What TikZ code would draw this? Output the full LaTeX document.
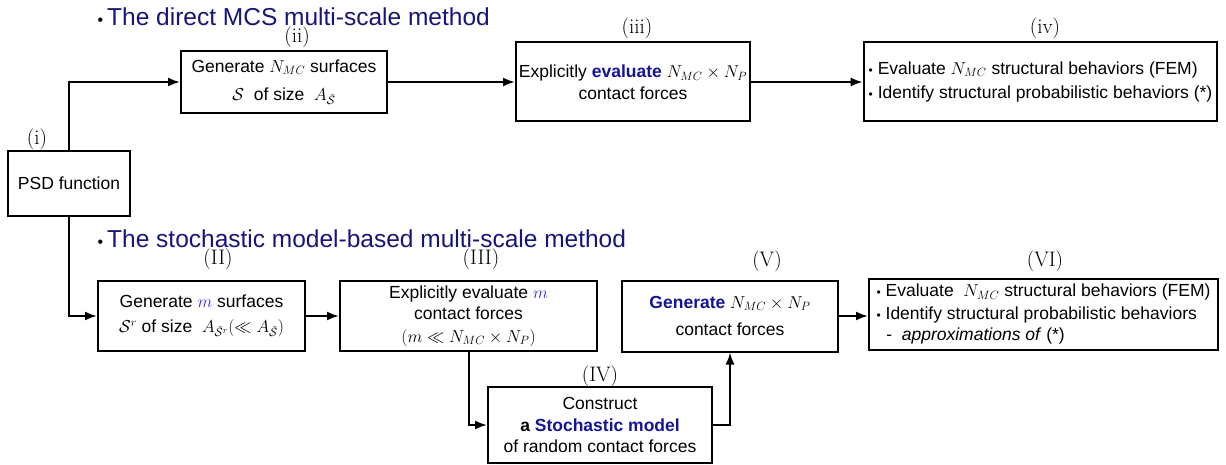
\documentclass[tikz,border=0pt]{standalone}
\usepackage{fontspec}
\setsansfont{Liberation Sans}
\usetikzlibrary{arrows.meta}
\definecolor{headblue}{RGB}{22,22,120}
\definecolor{keyblue}{RGB}{20,20,150}
\definecolor{varblue}{RGB}{45,45,235}
\newcommand{\dotitem}{{\fontsize{12}{12}\selectfont\textbullet}\ }
\begin{document}
\begin{tikzpicture}[x=1pt,y=-1pt,
  box/.style={draw,line width=2pt,inner sep=0pt,align=center,
    font=\sffamily\fontsize{17.5}{21.5}\selectfont},
  listbox/.style={box,align=left,inner xsep=5pt},
  flow/.style={line width=2pt,-{Latex[length=12pt,width=9pt]}},
  tag/.style={font=\rmfamily\fontsize{21}{24}\selectfont},
  heading/.style={anchor=west,text=headblue,font=\sffamily\fontsize{24.5}{28}\selectfont}]
\useasboundingbox (0,0) rectangle (1226,465);

% headings
\node[heading] (h1) at (94,17) {{\color{black}\fontsize{16}{16}\selectfont\textbullet}\,The direct MCS multi-scale method};
\node[heading] (h2) at (94,239) {{\color{black}\fontsize{16}{16}\selectfont\textbullet}\,The stochastic model-based multi-scale method};

% source
\node[box,minimum width=122pt,minimum height=65pt] (psd) at (69,183.5) {PSD function};
\node[tag] (ti) at (37,139) {(i)};

% direct path
\node[box,minimum width=206pt,minimum height=62pt] (ii) at (284,82)
  {Generate $N_{MC}$ surfaces\\[7pt] $\mathcal{S}$\ \ of size\ \ $A_{\bar{\mathcal{S}}}$};
\node[tag] (tii) at (297,37) {(ii)};

\node[box,minimum width=234pt,minimum height=79pt] (iii) at (633,82)
  {Explicitly \textbf{\color{keyblue}evaluate} $N_{MC}\times N_P$\\ contact forces};
\node[tag] (tiii) at (637,28) {(iii)};

\node[listbox,minimum width=349pt,minimum height=79pt] (iv) at (1040.5,82)
  {\dotitem Evaluate $N_{MC}$ structural behaviors (FEM)\\[3pt]
   \dotitem Identify structural probabilistic behaviors (*)};
\node[tag] (tiv) at (1045,28) {(iv)};

% stochastic-model path
\node[box,minimum width=207pt,minimum height=70pt] (II) at (201.5,316)
  {Generate {\color{varblue}$m$} surfaces\\[4pt] $\mathcal{S}^r$ of size\ \ $A_{\bar{\mathcal{S}}^r}(\ll A_{\bar{\mathcal{S}}})$};
\node[tag] (tII) at (218,259) {(II)};

\node[box,minimum width=257pt,minimum height=70pt] (III) at (468.5,316)
  {Explicitly evaluate {\color{varblue}$m$}\\ contact forces\\[1pt] $(m\ll N_{MC}\times N_P)$};
\node[tag] (tIII) at (481,259) {(III)};

\node[box,minimum width=224pt,minimum height=76pt] (IV) at (600,425)
  {Construct\\ \textbf{a {\color{keyblue}Stochastic model}}\\ of random contact forces};
\node[tag] (tIV) at (600,376) {(IV)};

\node[box,minimum width=216pt,minimum height=71pt] (V) at (730,316)
  {\textbf{\color{keyblue}Generate} $N_{MC}\times N_P$\\[6pt] contact forces};
\node[tag] (tV) at (767,261) {(V)};

\node[listbox,minimum width=349pt,minimum height=71pt] (VI) at (1043.5,314)
  {\dotitem Evaluate\ \ $N_{MC}$ structural behaviors (FEM)\\[1pt]
   \dotitem Identify structural probabilistic behaviors\\
   \ \ -\ \ \textit{approximations of} (*)};
\node[tag] (tVI) at (1045,261) {(VI)};

% connectors
\draw[flow] (psd.north) |- (ii.west);
\draw[flow] (psd.south) |- (II.west);
\draw[flow] (ii) -- (iii);
\draw[flow] (iii) -- (iv);
\draw[flow] (II) -- (III);
\draw[flow] (III.south) |- (IV.west);
\draw[flow] (IV.east) -| (V.south);
\draw[flow] (V.east) -- (V.east -| VI.west);
\end{tikzpicture}
\end{document}
